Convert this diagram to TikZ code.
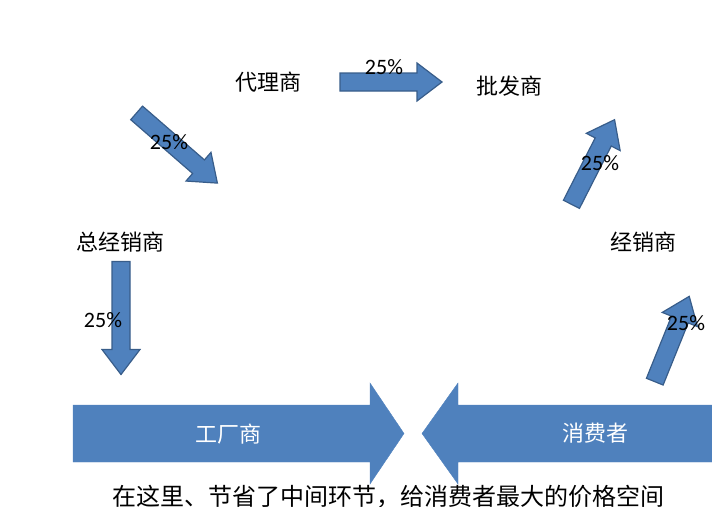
\documentclass[tikz,border=0pt]{standalone}
\usepackage{fontspec}
\setmainfont{Noto Sans CJK SC}
\newfontfamily\pctfont{Carlito}
\definecolor{arrowblue}{HTML}{4F81BD}
\definecolor{arrowline}{HTML}{385D8A}
% #1,#2 centre, #3 angle, #4 length, #5 shaft, #6 head width, #7 head length, #8 style
\newcommand\blockarrow[8]{%
  \filldraw[#8,shift={(#1,#2)},rotate=#3]
    ({-#4/2},{-#5/2}) -- ({#4/2-#7},{-#5/2}) -- ({#4/2-#7},{-#6/2}) -- ({#4/2},0)
    -- ({#4/2-#7},{#6/2}) -- ({#4/2-#7},{#5/2}) -- ({-#4/2},{#5/2}) -- cycle;}

\begin{document}
\begin{tikzpicture}[x=1pt,y=-1pt,
  flow/.style={fill=arrowblue,draw=arrowline,line width=1.2pt},
  big/.style={fill=arrowblue,draw=arrowblue},
  stage/.style={font=\fontsize{22}{24}\selectfont},
  pct/.style={font=\pctfont\fontsize{22}{24}\selectfont}]
\useasboundingbox (0,0) rectangle (712,506);
\clip (0,0) rectangle (712,506);
% stages
\node[stage] (agent)  at (268,82)  {代理商};
\node[stage] (whole)  at (509,86)  {批发商};
\node[stage] (gen)    at (120,242) {总经销商};
\node[stage] (dealer) at (643,242) {经销商};
% small arrows
\blockarrow{391}{82}{0}{102}{18}{38}{25}{flow}
\blockarrow{177}{148}{-41}{107}{18}{38}{25}{flow}
\blockarrow{593}{162}{63}{95}{18}{38}{25}{flow}
\blockarrow{121}{318}{-90}{113}{18}{38}{25}{flow}
\blockarrow{672}{339}{68}{92}{18}{38}{25}{flow}
\node[pct] (p1) at (384,67)  {25\%};
\node[pct] (p2) at (169,142) {25\%};
\node[pct] (p3) at (600,163) {25\%};
\node[pct] (p4) at (103,320) {25\%};
\node[pct] (p5) at (686,323) {25\%};
% factory and consumer
\blockarrow{238.5}{433.5}{0}{331}{57}{101}{34}{big}
\blockarrow{587.5}{433.5}{180}{331}{57}{101}{36}{big}
\node[stage,text=white] (factory)  at (228,434) {工厂商};
\node[stage,text=white] (consumer) at (595,433) {消费者};
\node[font=\fontsize{24}{26}\selectfont,anchor=west,inner sep=0pt] (note) at (112,497)
  {在这里、节省了中间环节，给消费者最大的价格空间};
\end{tikzpicture}
\end{document}
